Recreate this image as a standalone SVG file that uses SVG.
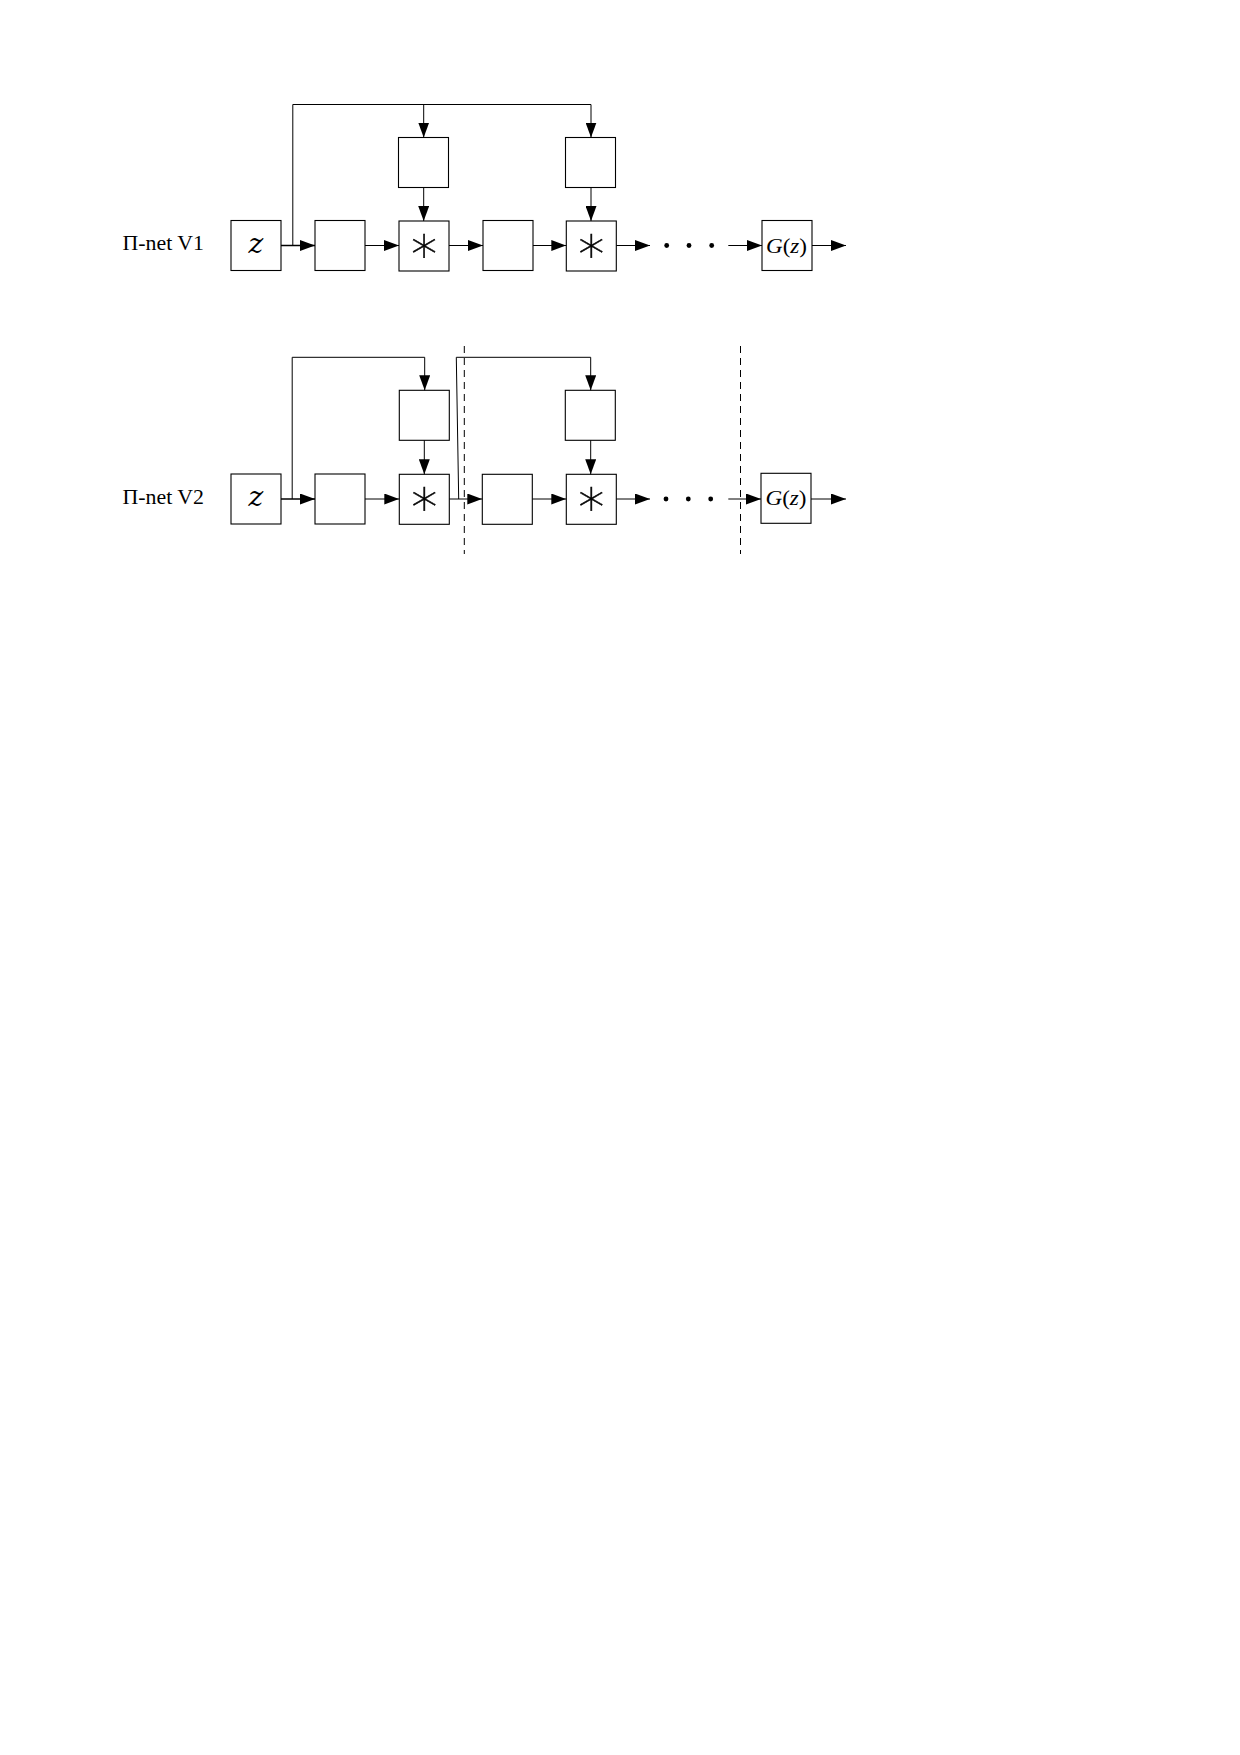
<svg xmlns="http://www.w3.org/2000/svg" width="1240" height="1755" viewBox="0 0 1240 1755">
<style>
.box{fill:#fff;stroke:#000;stroke-width:1.1}
.ln{fill:none;stroke:#000;stroke-width:1}
.th{stroke-width:1.6}
.dash{fill:none;stroke:#000;stroke-width:1;stroke-dasharray:7 5}
.lbl{font-family:"Liberation Serif","DejaVu Serif",serif;font-size:21px;fill:#000}
.z{font-family:"DejaVu Serif","Liberation Serif",serif;font-style:italic;font-size:28px;fill:#000}
.ast{font-family:"DejaVu Sans",sans-serif;font-weight:200;font-size:52px;fill:#000;stroke:#000;stroke-width:0.5}
.g{font-family:"Liberation Serif","DejaVu Serif",serif;font-size:21px;fill:#000}
</style>
<defs>
<marker id="ah" markerUnits="userSpaceOnUse" markerWidth="15" markerHeight="11" refX="15" refY="5.5" orient="auto">
<path d="M0,0 L15,5.5 L0,11 z" fill="#000"/>
</marker>
</defs>
<rect width="1240" height="1755" fill="#fff"/>

<g id="row1-label"><text class="lbl" x="122.5" y="250" textLength="81.5" lengthAdjust="spacingAndGlyphs">Π-net V1</text></g>
<g id="r1-z"><rect class="box" x="231" y="220.5" width="50" height="50"/><text class="z" x="256" y="252.5" text-anchor="middle">z</text></g>
<g id="r1-b2"><rect class="box" x="315" y="220.5" width="50" height="50"/></g>
<g id="r1-m1"><rect class="box" x="399" y="221" width="50" height="50"/><text class="ast" x="424" y="262" text-anchor="middle">∗</text></g>
<g id="r1-t1"><rect class="box" x="398.5" y="137.5" width="50" height="50"/></g>
<g id="r1-b4"><rect class="box" x="483" y="220.5" width="50" height="50"/></g>
<g id="r1-m2"><rect class="box" x="566.3" y="221" width="50" height="50"/><text class="ast" x="591.3" y="262" text-anchor="middle">∗</text></g>
<g id="r1-t2"><rect class="box" x="565.5" y="137.5" width="50" height="50"/></g>
<g id="r1-g"><rect class="box" x="762" y="220.5" width="50" height="50"/><text class="g" x="766" y="253" textLength="41" lengthAdjust="spacingAndGlyphs"><tspan font-style="italic">G</tspan>(<tspan font-style="italic">z</tspan>)</text></g>

<g id="row2-label"><text class="lbl" x="122.5" y="503.5" textLength="81.5" lengthAdjust="spacingAndGlyphs">Π-net V2</text></g>
<g id="r2-z"><rect class="box" x="231" y="474" width="50" height="50"/><text class="z" x="256" y="506" text-anchor="middle">z</text></g>
<g id="r2-b2"><rect class="box" x="315" y="474" width="50" height="50"/></g>
<g id="r2-m1"><rect class="box" x="399.3" y="474.3" width="50" height="50"/><text class="ast" x="424.3" y="515.2" text-anchor="middle">∗</text></g>
<g id="r2-t1"><rect class="box" x="399.3" y="390.3" width="50" height="50"/></g>
<g id="r2-b4"><rect class="box" x="482.3" y="474.3" width="50" height="50"/></g>
<g id="r2-m2"><rect class="box" x="566.3" y="474.3" width="50" height="50"/><text class="ast" x="591.3" y="515.2" text-anchor="middle">∗</text></g>
<g id="r2-t2"><rect class="box" x="565.3" y="390.3" width="50" height="50"/></g>
<g id="r2-g"><rect class="box" x="761" y="473.3" width="50" height="50"/><text class="g" x="765.5" y="505" textLength="41" lengthAdjust="spacingAndGlyphs"><tspan font-style="italic">G</tspan>(<tspan font-style="italic">z</tspan>)</text></g>

<g id="connectors">
<line class="ln th" x1="281" y1="245.5" x2="315" y2="245.5" marker-end="url(#ah)"/>
<polyline class="ln" points="292.8,245.5 292.8,104.5 591,104.5"/>
<line class="ln" x1="423.7" y1="104.5" x2="423.7" y2="137.5" marker-end="url(#ah)"/>
<line class="ln" x1="591" y1="104.5" x2="591" y2="137.5" marker-end="url(#ah)"/>
<line class="ln" x1="365" y1="245.5" x2="399" y2="245.5" marker-end="url(#ah)"/>
<line class="ln" x1="423.7" y1="187.5" x2="423.7" y2="221" marker-end="url(#ah)"/>
<line class="ln" x1="449" y1="245.5" x2="483" y2="245.5" marker-end="url(#ah)"/>
<line class="ln" x1="533" y1="245.5" x2="566.3" y2="245.5" marker-end="url(#ah)"/>
<line class="ln" x1="591" y1="187.5" x2="591" y2="221" marker-end="url(#ah)"/>
<line class="ln" x1="616.3" y1="245.5" x2="650" y2="245.5" marker-end="url(#ah)"/>
<circle cx="666.7" cy="245.5" r="2.4" fill="#000"/>
<circle cx="689" cy="245.5" r="2.4" fill="#000"/>
<circle cx="711.7" cy="245.5" r="2.4" fill="#000"/>
<line class="ln" x1="728.3" y1="245.5" x2="762" y2="245.5" marker-end="url(#ah)"/>
<line class="ln" x1="812" y1="245.5" x2="846" y2="245.5" marker-end="url(#ah)"/>

<line class="ln th" x1="281" y1="499" x2="315" y2="499" marker-end="url(#ah)"/>
<polyline class="ln" points="292.2,499 292.2,357.3 424.7,357.3"/>
<line class="ln" x1="424.7" y1="357.3" x2="424.7" y2="390.3" marker-end="url(#ah)"/>
<polyline class="ln" points="458.7,499 456.3,357.3 590.7,357.3"/>
<line class="ln" x1="590.7" y1="357.3" x2="590.7" y2="390.3" marker-end="url(#ah)"/>
<line class="ln" x1="365" y1="499" x2="399.3" y2="499" marker-end="url(#ah)"/>
<line class="ln" x1="424.3" y1="440.3" x2="424.3" y2="474.3" marker-end="url(#ah)"/>
<line class="ln" x1="449.3" y1="499" x2="482.3" y2="499" marker-end="url(#ah)"/>
<line class="ln" x1="532.3" y1="499" x2="566.3" y2="499" marker-end="url(#ah)"/>
<line class="ln" x1="590.7" y1="440.3" x2="590.7" y2="474.3" marker-end="url(#ah)"/>
<line class="ln" x1="616.3" y1="499" x2="650" y2="499" marker-end="url(#ah)"/>
<circle cx="666" cy="499" r="2.4" fill="#000"/>
<circle cx="688.3" cy="499" r="2.4" fill="#000"/>
<circle cx="710.7" cy="499" r="2.4" fill="#000"/>
<line class="ln" x1="728.3" y1="499" x2="761" y2="499" marker-end="url(#ah)"/>
<line class="ln" x1="811" y1="499" x2="846" y2="499" marker-end="url(#ah)"/>
<line class="dash" x1="464.3" y1="346" x2="464.3" y2="554"/>
<line class="dash" x1="740.5" y1="346" x2="740.5" y2="554"/>
</g>
</svg>
